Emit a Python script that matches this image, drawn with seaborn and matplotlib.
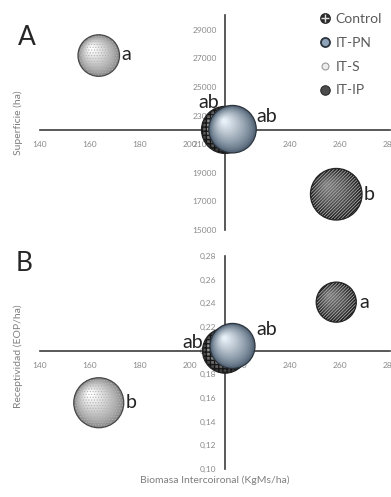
import numpy as np
import pandas as pd
import matplotlib
matplotlib.use("Agg")
import matplotlib.pyplot as plt
import matplotlib.transforms as mtransforms
import matplotlib.colors as mcolors
from matplotlib.lines import Line2D
from matplotlib.legend_handler import HandlerTuple
from matplotlib.ticker import FuncFormatter, FixedLocator
import seaborn as sns

# ---- datos ----
grupos = ["Control", "IT-PN", "IT-S", "IT-IP"]
biomasa = [214.0, 217.0, 163.5, 258.5]          # KgMs/ha
superficie = [22000, 22050, 27200, 17500]       # ha
receptividad = [0.200, 0.204, 0.156, 0.241]     # EOP/ha
letras_sup = ["ab", "ab", "a", "b"]
letras_rec = ["ab", "ab", "b", "a"]

x_ticks = [140, 160, 180, 200, 220, 240, 260, 280]
sup_ticks = [15000, 17000, 19000, 21000, 23000, 25000, 27000, 29000]
rec_ticks = [0.10, 0.12, 0.14, 0.16, 0.18, 0.20, 0.22, 0.24, 0.26, 0.28]

DPI = 100
sns.set_style("white")
plt.rcParams["font.family"] = ["Lato", "DejaVu Sans"]

fig = plt.figure(figsize=(3.91, 4.97), dpi=DPI)
W, H = 391, 497


def ax_px(left, top, right, bottom):
    return fig.add_axes([left / W, 1 - bottom / H, (right - left) / W, (bottom - top) / H])


axA = ax_px(40, 15.5, 390, 230)
axB = ax_px(40, 256, 390, 469)

estilos = {
    "Control": dict(borde="#3a3a3a", luz="#f0f0f0", trama="++++", color_trama="#161616",
                    lw_trama=1.0, contorno="#222222"),
    "IT-PN": dict(borde="#56687a", luz="#e6eef6", trama=None, color_trama=None,
                  lw_trama=0.0, contorno="#2b333c"),
    "IT-S": dict(borde="#8c8c8c", luz="#ffffff", trama="......", color_trama="#b4b4b4",
                 lw_trama=0.5, contorno="#474747"),
    "IT-IP": dict(borde="#1c1c1c", luz="#7a7a7a", trama="//////////", color_trama="#b0b0b0",
                  lw_trama=0.55, contorno="#262626"),
}


def mezcla(c1, c2, t):
    a = np.array(mcolors.to_rgb(c1))
    b = np.array(mcolors.to_rgb(c2))
    return tuple(a + (b - a) * t)


def area_pts(radio_px):
    return (2 * radio_px * 72.0 / DPI) ** 2


def desplazado(ax, dx_px, dy_px):
    return ax.transData + mtransforms.ScaledTranslation(dx_px / DPI, dy_px / DPI, fig.dpi_scale_trans)


def burbujas(ax, ys, tam, r_max, letras, pos_letras):
    df = pd.DataFrame({"grupo": grupos, "x": biomasa, "y": ys, "tam": tam, "letra": letras})
    tmax = max(tam)
    for k, fila in df.iterrows():
        est = estilos[fila.grupo]
        r = r_max * np.sqrt(fila.tam / tmax)
        z = 3 + k * 0.1
        # disco base
        sns.scatterplot(data=df.iloc[[k]], x="x", y="y", s=area_pts(r), color=est["borde"],
                        edgecolor="none", linewidth=0, legend=False, ax=ax, zorder=z)
        # sombreado esférico con luz arriba a la izquierda
        n = 16
        for i in range(1, n):
            t = i / (n - 1)
            ri = r * (1 - 0.86 * t) - 0.6
            ax.scatter([fila.x], [fila.y], s=area_pts(ri), color=mezcla(est["borde"], est["luz"], t ** 0.8),
                       edgecolors="none", linewidths=0,
                       transform=desplazado(ax, -0.34 * r * t, 0.34 * r * t), zorder=z + 0.001 * i)
        if est["trama"]:
            with plt.rc_context({"hatch.linewidth": est["lw_trama"]}):
                ax.scatter([fila.x], [fila.y], s=area_pts(r), facecolors="none",
                           edgecolors=est["color_trama"], linewidths=0, hatch=est["trama"],
                           zorder=z + 0.05)
        ax.scatter([fila.x], [fila.y], s=area_pts(r), facecolors="none",
                   edgecolors=est["contorno"], linewidths=0.9, zorder=z + 0.06)
        dx, dy, ha = pos_letras[k]
        ax.annotate(fila.letra, (fila.x, fila.y), xytext=(dx, dy), textcoords="offset points",
                    ha=ha, va="center", fontsize=14, color="#222222", zorder=z + 0.07)
    ax.set_xlabel("")
    ax.set_ylabel("")


def ejes(ax, ylim, yticks, cruce_y, fmt):
    ax.set_xlim(140, 280)
    ax.set_ylim(*ylim)
    ax.xaxis.set_major_locator(FixedLocator(x_ticks))
    ax.yaxis.set_major_locator(FixedLocator(yticks))
    ax.yaxis.set_major_formatter(FuncFormatter(fmt))
    ax.xaxis.set_major_formatter(FuncFormatter(lambda v, p: f"{v:.0f}"))
    for s in ("top", "right"):
        ax.spines[s].set_visible(False)
    ax.spines["left"].set_position(("data", biomasa[0]))
    ax.spines["bottom"].set_position(("data", cruce_y))
    for s in ("left", "bottom"):
        ax.spines[s].set_color("#3c3c3c")
        ax.spines[s].set_linewidth(1.2)
        ax.spines[s].set_zorder(2)
    ax.tick_params(axis="x", length=0, pad=8, labelsize=6, labelcolor="#8a8a8a")
    ax.tick_params(axis="y", length=0, pad=6, labelsize=6, labelcolor="#8a8a8a")
    ax.patch.set_alpha(0)


# Panel A: superficie vs biomasa, burbuja = receptividad
ejes(axA, (15000, 30000), sup_ticks, superficie[0], lambda v, p: f"{v:.0f}")
burbujas(axA, superficie, receptividad, 25.8, letras_sup,
         [(-4, 20, "right"), (17, 9, "left"), (16, 1, "left"), (20, 0, "left")])

# Panel B: receptividad vs biomasa, burbuja = superficie
ejes(axB, (0.10, 0.28), rec_ticks, receptividad[0],
     lambda v, p: f"{v:.2f}".replace(".", ","))
burbujas(axB, receptividad, superficie, 25.0, letras_rec,
         [(-16, 6, "right"), (17, 12, "left"), (19, 0, "left"), (17, 0, "left")])

# textos de figura
fig.text(18 / W, 1 - 25 / H, "A", fontsize=19, color="#262626", va="top", ha="left")
fig.text(16 / W, 1 - 251 / H, "B", fontsize=19, color="#262626", va="top", ha="left")
fig.text(18 / W, 1 - 123 / H, "Superficie (ha)", rotation=90, fontsize=7.5, color="#7f7f7f",
         ha="center", va="center")
fig.text(18 / W, 1 - 356 / H, "Receptividad (EOP/ha)", rotation=90, fontsize=7.5, color="#7f7f7f",
         ha="center", va="center")
fig.text(215 / W, 1 - 480 / H, "Biomasa Intercoironal (KgMs/ha)", fontsize=7.5, color="#7f7f7f",
         ha="center", va="center")

# leyenda
h_control = (Line2D([], [], marker="o", ls="", ms=6.8, mfc="#2a2a2a", mec="#2a2a2a"),
             Line2D([], [], marker="+", ls="", ms=6, mew=1.0, color="#e0e0e0"))
h_pn = Line2D([], [], marker="o", ls="", ms=6.5, mfc="#8ea3b7", mec="#2b333c", mew=1.3)
h_s = Line2D([], [], marker="o", ls="", ms=5, mfc="#ececec", mec="#9a9a9a", mew=0.8)
h_ip = Line2D([], [], marker="o", ls="", ms=6.8, mfc="#4c4c4c", mec="#2a2a2a", mew=0.8)
fig.legend([h_control, h_pn, h_s, h_ip], grupos, loc="upper left",
           bbox_to_anchor=(319 / W, 1 - 13 / H), frameon=False, fontsize=10,
           labelcolor="#595959", handlelength=0.85, handletextpad=0.35, labelspacing=0.85,
           borderpad=0, borderaxespad=0, handler_map={tuple: HandlerTuple(ndivide=1, pad=0)})

fig.savefig("out.png", dpi=DPI)
